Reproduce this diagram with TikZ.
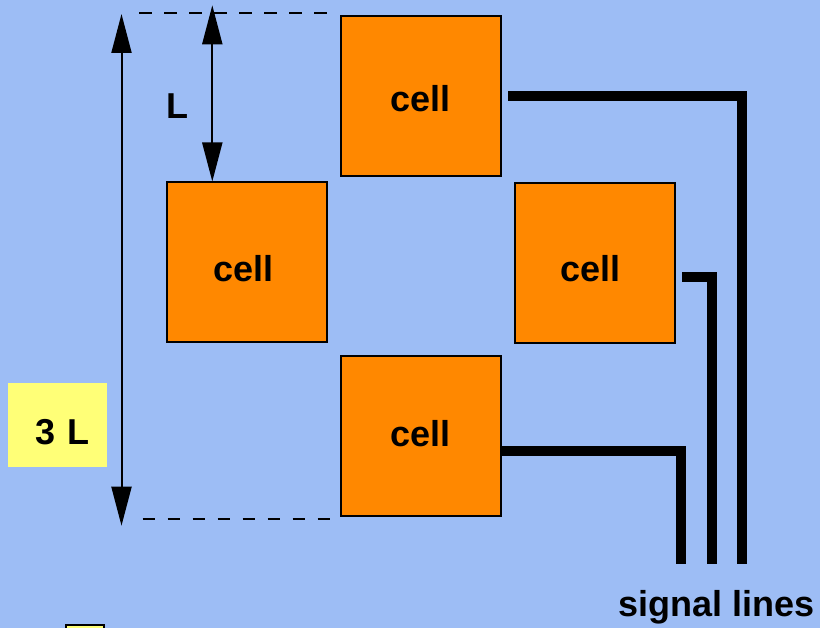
\documentclass[tikz,border=0pt]{standalone}
\usepackage{fontspec}
\setmainfont{Liberation Sans}
\usetikzlibrary{arrows.meta}
\definecolor{bgblue}{RGB}{157,189,245}
\definecolor{cellorange}{RGB}{255,136,0}
\definecolor{noteyellow}{RGB}{255,255,119}
\begin{document}
\begin{tikzpicture}[x=1pt,y=-1pt,
  bigtext/.style={font=\fontsize{36}{40}\selectfont\bfseries, inner sep=0pt},
  cellbox/.style={draw=black, line width=2pt, fill=cellorange, minimum size=160pt,
    inner sep=0pt, text depth=0pt, font=\fontsize{36}{40}\selectfont\bfseries},
  notebox/.style={fill=noteyellow, inner sep=0pt, font=\fontsize{36}{40}\selectfont\bfseries},
  sig/.style={line width=10pt},
  dimarrow/.style={line width=2pt, {Triangle[length=39pt,width=20pt]}-{Triangle[length=39pt,width=20pt]}},
  guide/.style={line width=2pt, dash pattern=on 12.3pt off 12.7pt}]
\fill[bgblue] (0,0) rectangle (820,628);
\useasboundingbox (0,0) rectangle (820,628);
\clip (0,0) rectangle (820,628);

% cells
\node[cellbox, text height=32pt] (ctop) at (420.5,95.7) {cell};
\node[cellbox, text height=38.4pt, text width=67.6pt, align=left] (cleft) at (246.8,262.5) {cell};
\node[cellbox, text height=38pt, text width=67.6pt, align=left] (cright) at (594.5,262.8) {cell};
\node[cellbox, text height=22pt] (cbot) at (420.5,435.7) {cell};

% guide lines
\coordinate (g1a) at (139.3,12.7);
\coordinate (g1b) at (328,12.7);
\coordinate (g2a) at (142.7,519);
\coordinate (g2b) at (331.7,519);
\draw[guide] (g1a) -- (g1b);
\draw[guide] (g2a) -- (g2b);

% dimension arrows
\coordinate (t3a) at (121.5,14);
\coordinate (t3b) at (121.5,525.7);
\draw[dimarrow] (t3a) -- (t3b);
\coordinate (La) at (212.3,5.3);
\draw[dimarrow] (La) -- (La |- cleft.north);

% labels
\node[bigtext, anchor=base] (Llab) at (177.5,119) {L};
\node[notebox, minimum width=98.7pt, minimum height=83.4pt, text width=65.3pt,
  align=right, text height=40pt, text depth=0pt] (lab3) at (57.35,425) {3 L};
\node[bigtext, anchor=base] (siglab) at (716.7,616.7) {signal lines};

% signal lines
\coordinate (e1) at (741.7,564);
\coordinate (e2) at (711.7,564);
\coordinate (e3) at (681.2,564);
\draw[sig] ([xshift=6.8pt]ctop.east) -| (e1);
\draw[sig] ([xshift=6.8pt,yshift=-14.2pt]cright.east) -| (e2);
\draw[sig] ([yshift=-15.6pt]cbot.east) -| (e3);

% small legend box at the bottom
\node[draw=black, line width=2.7pt, fill=noteyellow, minimum width=38pt,
  minimum height=20pt, inner sep=0pt, anchor=north west] (legend) at (64.7,623.7) {};
\end{tikzpicture}
\end{document}
